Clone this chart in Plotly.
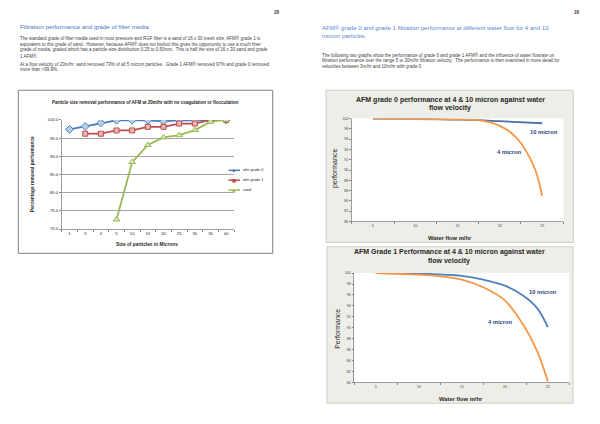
import plotly.graph_objects as go

W, H = 600, 424
def px(x): return x / W
def py(y): return 1 - y / H

# ---------------- DATA ----------------
# Left chart: particle size removal at 20 m/hr
particle_sizes = ["1", "3", "4", "5", "10", "15", "20", "25", "30", "35", "40"]
afm_grade0 = [97.4, 98.2, 99.2, 99.9, 99.9, 99.9, 99.6, 99.9, 99.9, 100.0, 100.0]
afm_grade1 = [None, 96.2, 96.2, 97.1, 97.1, 98.1, 98.1, 99.0, 99.0, 100.0, 100.0]
sand = [None, None, None, 72.6, 88.4, 93.1, 95.2, 95.8, 97.2, 99.5, 100.0]
left_series_names = ["afm grade 0", "afm grade 1", "sand"]
left_yticks = [70, 75, 80, 85, 90, 95, 100]

# Flow-velocity charts (water flow m/hr)
flow_ticks = [5, 10, 15, 20, 25]
flow_ticktext = ["5", "10", "15", "20", "25"]
perf_ticks = [80, 82, 84, 86, 88, 90, 92, 94, 96, 98, 100]

# Grade 0
g0_10_flow = [5, 10, 15, 17.5, 20, 25]
g0_10_perf = [100.0, 100.0, 99.8, 99.7, 99.5, 99.1]
g0_4_flow = [5, 10, 15, 17.5, 20, 21.5, 22.5, 23.5, 24.3, 25]
g0_4_perf = [100.0, 99.9, 99.8, 99.7, 98.6, 97.0, 95.2, 92.5, 89.5, 85.0]

# Grade 1
g1_10_flow = [5, 10, 15, 17.5, 20, 22.2, 23.8, 25]
g1_10_perf = [100.0, 99.9, 99.5, 98.8, 97.7, 95.8, 93.5, 90.1]
g1_4_flow = [5, 10, 12.5, 15, 17.5, 20, 22.2, 23.8, 25]
g1_4_perf = [100.0, 99.7, 99.4, 98.8, 97.4, 95.0, 90.4, 85.6, 80.2]

# ---------------- STYLE ----------------
FONT = "Liberation Sans"
BLUE_L, RED_L, GREEN_L = "#4a7ebb", "#be4b48", "#98b954"
BLUE_F, RED_F, GREEN_F = "#b9cde5", "#e6b9b8", "#d7e4bd"
ORANGE = "#f79646"
BLUE2 = "#4a74a8"
BLUE3 = "#4f81bd"
LABEL_BLUE = "#1f497d"
AXIS = "#868686"
BOXBG = "#eeeee8"

fig = go.Figure()

# Left chart traces
for name, vals, lc, fc, sym, ms in [
    (left_series_names[0], afm_grade0, BLUE_L, BLUE_F, "diamond", 6),
    (left_series_names[1], afm_grade1, RED_L, RED_F, "square", 5),
    (left_series_names[2], sand, GREEN_L, GREEN_F, "triangle-up", 6),
]:
    fig.add_trace(go.Scatter(
        x=particle_sizes, y=vals, name=name, mode="lines+markers",
        line=dict(color=lc, width=1.8),
        marker=dict(symbol=sym, size=ms, color=fc, line=dict(color=lc, width=1)),
        xaxis="x", yaxis="y", showlegend=False, connectgaps=False))

# Grade 0 traces
fig.add_trace(go.Scatter(x=g0_10_flow, y=g0_10_perf, mode="lines", name="10 micron",
                         line=dict(color=BLUE2, width=1.8, shape="spline", smoothing=1),
                         xaxis="x2", yaxis="y2", showlegend=False))
fig.add_trace(go.Scatter(x=g0_4_flow, y=g0_4_perf, mode="lines", name="4 micron",
                         line=dict(color=ORANGE, width=1.8, shape="spline", smoothing=1),
                         xaxis="x2", yaxis="y2", showlegend=False))
# Grade 1 traces
fig.add_trace(go.Scatter(x=g1_10_flow, y=g1_10_perf, mode="lines", name="10 micron",
                         line=dict(color=BLUE3, width=1.8, shape="spline", smoothing=1),
                         xaxis="x3", yaxis="y3", showlegend=False))
fig.add_trace(go.Scatter(x=g1_4_flow, y=g1_4_perf, mode="lines", name="4 micron",
                         line=dict(color=ORANGE, width=1.8, shape="spline", smoothing=1),
                         xaxis="x3", yaxis="y3", showlegend=False))

shapes = [
    # left chart frame
    dict(type="rect", xref="paper", yref="paper", x0=px(18.3), x1=px(272.7), y0=py(253.3), y1=py(88.3),
         line=dict(color="#7f7f7f", width=1), fillcolor="white", layer="below"),
    # grade 0 box
    dict(type="rect", xref="paper", yref="paper", x0=px(326), x1=px(573.3), y0=py(242.3), y1=py(88.3),
         line=dict(color="#c4c4c0", width=0.8), fillcolor=BOXBG, layer="below"),
    dict(type="rect", xref="paper", yref="paper", x0=px(351.7), x1=px(563.3), y0=py(221), y1=py(117),
         line=dict(width=0), fillcolor="white", layer="below"),
    # grade 1 box
    dict(type="rect", xref="paper", yref="paper", x0=px(327), x1=px(573), y0=py(405), y1=py(246.7),
         line=dict(color="#c4c4c0", width=0.8), fillcolor=BOXBG, layer="below"),
    dict(type="rect", xref="paper", yref="paper", x0=px(354.3), x1=px(569.3), y0=py(384), y1=py(273.3),
         line=dict(width=0), fillcolor="white", layer="below"),
]

ann = []
def txt(x, y, s, size, color="#333333", xanchor="left", bold=False, angle=0, fam=FONT):
    ann.append(dict(x=px(x), y=py(y), xref="paper", yref="paper", showarrow=False,
                    text=("<b>%s</b>" % s) if bold else s, xanchor=xanchor, yanchor="middle",
                    textangle=angle, font=dict(family=fam, size=size, color=color)))

# Page numbers
txt(276.7, 9.3, "28", 4.5, "#404040", "center", bold=True)
txt(576.7, 9.3, "29", 4.5, "#404040", "center", bold=True)

# Left page text
txt(17.5, 24, "Filtration performance and grade of filter media", 6.2, "#4a74c4")
left_para = [
    (35.7, "The standard grade of filter media used in most pressure and RGF filter is a sand of 16 x 30 mesh size, AFM® grade 1 is"),
    (41.7, "equivalent to this grade of sand.  However, because AFM® does not biofoul this gives the opportunity to use a much finer"),
    (47.3, "grade of media, graded which has a particle size distribution 0.25 to 0.50mm.  This is half the size of 16 x 30 sand and grade"),
    (53.3, "1 AFM®."),
    (61.7, "At a flow velocity of 20m/hr, sand removed 73% of all 5 micron particles.  Grade 1 AFM® removed 97% and grade 0 removed"),
    (67.3, "more than >99.9%."),
]
for y, s in left_para:
    txt(18, y, s, 4.5, "#404040")

# Right page text
txt(319.5, 25, "AFM® grade 0 and grade 1 filtration performance at different water flow for 4 and 10", 6.1, "#5a88cf")
txt(319.5, 33.3, "micron particles.", 6.1, "#5a88cf")
right_para = [
    (52.7, "The following two graphs show the performance of grade 0 and grade 1 AFM® and the influence of water flowrate on"),
    (58.3, "filtration performance over the range 5 to 30m/hr filtration velocity.  The performance is then examined in more detail for"),
    (64.0, "velocities between 3m/hr and 10m/hr with grade 0"),
]
for y, s in right_para:
    txt(320, y, s, 4.5, "#404040")

# Left chart texts
txt(145, 100.7, "Particle size removal performance of AFM at 20m/hr with no coagulation or flocculation", 4.5, "#262626", "center", bold=True)
txt(33.3, 173, "Percentage removal performance", 4.8, "#262626", "center", bold=True, angle=-90)
txt(147, 244, "Size of particles in Microns", 4.8, "#262626", "center", bold=True)

# Manual compact legend
leg_y = [169.3, 179.3, 189.3]
leg_style = [(BLUE_L, "◆"), (RED_L, "■"), (GREEN_L, "▲")]
for (c, sym), yy, nm in zip(leg_style, leg_y, left_series_names):
    shapes.append(dict(type="line", xref="paper", yref="paper", x0=px(228.5), x1=px(240), y0=py(yy), y1=py(yy),
                       line=dict(color=c, width=1.5)))
    txt(234.2, yy, sym, 4.5, c, "center", fam="DejaVu Sans")
    txt(240.5, yy, nm, 3.8, "#262626")

# Grade 0 chart texts
txt(450, 97.7, "AFM grade 0 performance at 4 &amp; 10 micron against water", 7.0, "#262626", "center", bold=True)
txt(450, 106.7, "flow velocity", 7.0, "#262626", "center", bold=True)
txt(335, 168, "performance", 7, "#262626", "center", angle=-90)
txt(450, 238, "Water flow m/hr", 5.8, "#262626", "center", bold=True)
txt(543.5, 130.7, "10 micron", 5.8, LABEL_BLUE, "center", bold=True)
txt(509, 150.3, "4 micron", 5.8, LABEL_BLUE, "center", bold=True)

# Grade 1 chart texts
txt(449, 251.7, "AFM Grade 1 Performance at 4 &amp; 10 micron against water", 7.0, "#262626", "center", bold=True)
txt(449, 260.7, "flow velocity", 7.0, "#262626", "center", bold=True)
txt(336.7, 330, "Performance", 7, "#262626", "center", angle=-90)
txt(460.7, 400.7, "Water flow m/hr", 5.8, "#262626", "center", bold=True)
txt(543.3, 292.3, "10 micron", 5.8, LABEL_BLUE, "center", bold=True)
txt(500.7, 323.3, "4 micron", 5.8, LABEL_BLUE, "center", bold=True)

common_y = dict(showline=True, linecolor=AXIS, linewidth=0.8, ticks="outside", ticklen=2,
                tickcolor=AXIS, zeroline=False, fixedrange=True)
flow_x = dict(type="linear", range=[2.5, 27.5], tickmode="array", tickvals=flow_ticks, ticktext=flow_ticktext,
              showline=True, linecolor=AXIS, linewidth=0.8, ticks="", showgrid=False, zeroline=False,
              fixedrange=True, tickfont=dict(family=FONT, size=3.6, color="#404040"),
              minor=dict(ticks="outside", tick0=2.5, dtick=5, ticklen=2, tickcolor=AXIS, showgrid=False))

fig.update_layout(
    width=W, height=H, margin=dict(l=0, r=0, t=0, b=0),
    paper_bgcolor="white", plot_bgcolor="rgba(0,0,0,0)",
    showlegend=False, shapes=shapes, annotations=ann, hovermode=False,
    xaxis=dict(type="category", categoryorder="array", categoryarray=particle_sizes,
               domain=[px(61.7), px(234)], anchor="y", range=[-0.5, 10.5],
               showline=True, linecolor=AXIS, linewidth=0.8, ticks="outside", ticklen=2.5,
               tickcolor=AXIS, tickson="boundaries", showgrid=False, fixedrange=True,
               tickfont=dict(family=FONT, size=4.2, color="#262626")),
    yaxis=dict(domain=[py(228.7), py(118.3)], anchor="x", range=[70, 100], tickvals=left_yticks,
               tickformat=".1f", showgrid=True, gridcolor=AXIS, gridwidth=0.75,
               tickfont=dict(family=FONT, size=4.2, color="#262626"), **common_y),
    xaxis2=dict(domain=[px(351.7), px(563.3)], anchor="y2", **flow_x),
    yaxis2=dict(domain=[py(221), py(117)], anchor="x2", range=[80, 100], tickvals=perf_ticks,
                showgrid=False, tickfont=dict(family=FONT, size=3.6, color="#404040"), **common_y),
    xaxis3=dict(domain=[px(354.3), px(569.3)], anchor="y3", **flow_x),
    yaxis3=dict(domain=[py(384), py(273.3)], anchor="x3", range=[80, 100], tickvals=perf_ticks,
                showgrid=False, tickfont=dict(family=FONT, size=3.6, color="#404040"), **common_y),
)

fig.write_html("out.html", config={"displayModeBar": False, "staticPlot": True},
               post_script="document.body.style.margin='0px';document.body.style.overflow='hidden';")
